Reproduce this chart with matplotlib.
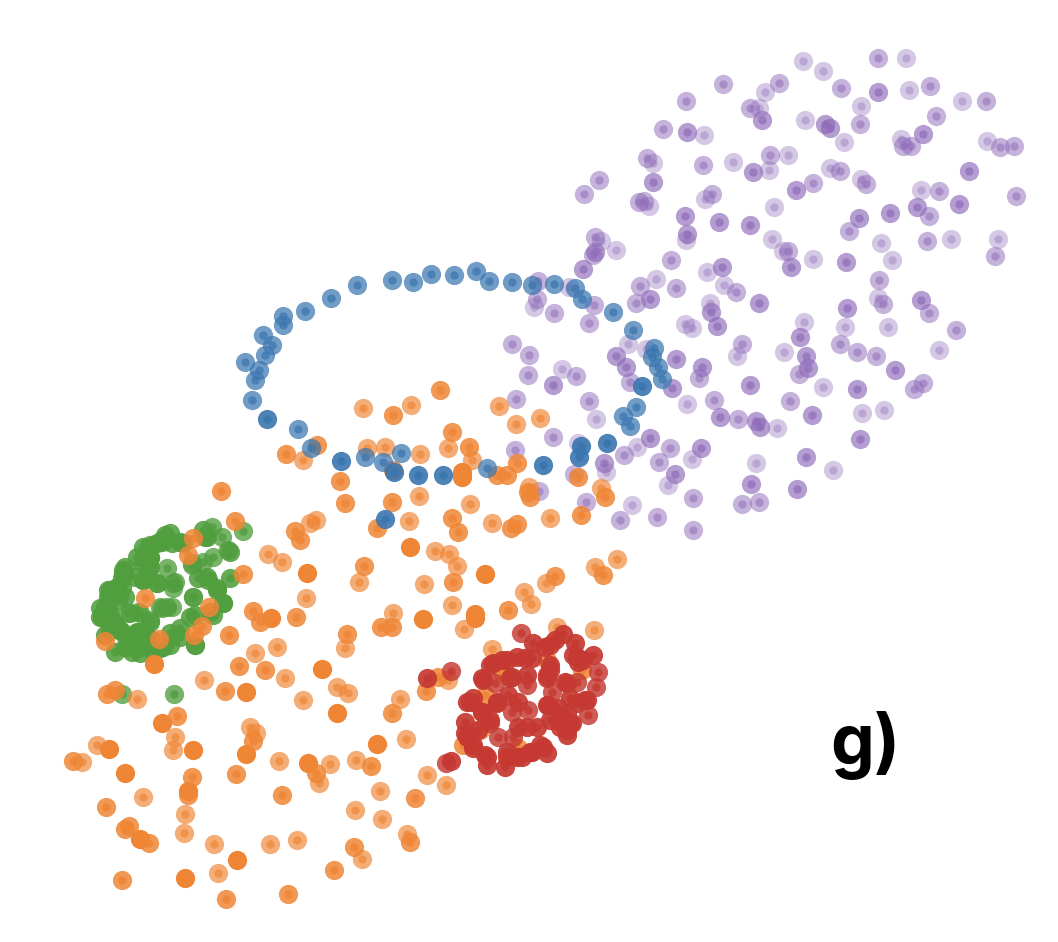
import matplotlib
matplotlib.use("Agg")
import matplotlib.pyplot as plt

# embedding coordinates, grouped by cluster and opacity
purple_light = [(823,71),(765,92),(759,108),(805,120),(704,135),(653,163),(733,162),(788,155),(769,170),(705,199),
    (649,206),(774,207),(686,240),(772,239),(601,241),(616,250),(783,251),(707,272),(803,61),(906,58),(909,90),
    (962,101),(861,106),(844,142),(901,139),(987,141),(830,168),(861,179),(921,190),(881,243),(951,239),(998,239),
    (892,260),(813,259),(724,285),(878,298),(710,303),(804,322),(845,327),(888,327),(737,356),(784,352),(939,350),
    (823,387),(862,413),(884,410),(777,428),(756,463),(833,470),(569,287),(656,279),(534,307),(685,324),(692,328),
    (628,344),(646,349),(562,369),(687,404),(596,419),(578,443),(637,447),(692,459),(606,472),(668,485),(632,505)]
purple_mid = [(723,84),(779,83),(750,108),(686,101),(663,129),(647,158),(703,165),(770,155),(599,180),(584,194),
    (712,194),(639,202),(644,201),(595,237),(593,255),(671,260),(788,251),(878,58),(841,88),(930,86),(986,101),
    (936,116),(860,124),(903,146),(911,146),(1000,147),(1014,146),(840,171),(813,183),(866,184),(939,191),(1016,196),
    (929,216),(849,231),(927,241),(995,256),(879,280),(736,292),(883,304),(929,313),(956,330),(742,344),(840,344),
    (857,352),(876,356),(799,374),(923,383),(914,389),(699,378),(714,400),(790,401),(738,419),(693,498),(742,504),
    (759,502),(693,530),(538,281),(640,286),(676,288),(636,303),(537,299),(594,305),(554,313),(589,323),(512,344),
    (529,355),(528,375),(576,376),(630,382),(589,401),(516,399),(553,437),(670,448),(515,450),(624,455),(659,462),
    (574,474),(539,491),(586,502),(620,520),(657,517)]
purple_dark = [(762,120),(687,132),(753,172),(796,190),(653,182),(685,216),(719,222),(750,225),(687,234),(595,252),
    (583,269),(791,267),(722,267),(825,124),(830,128),(878,92),(923,134),(969,171),(959,204),(917,207),(890,213),
    (859,218),(846,262),(759,303),(921,300),(847,308),(711,312),(717,326),(800,337),(806,356),(808,368),(895,370),
    (857,389),(702,367),(750,385),(812,415),(720,417),(756,421),(760,427),(860,439),(701,448),(806,457),(751,484),
    (797,489),(650,299),(616,356),(626,367),(676,359),(553,385),(672,388),(650,438),(604,463),(675,474)]

green_light = [(243,531),(212,527),(222,537),(174,694),(122,694),(195,645),(162,608),(172,607),(128,613),(140,613),
    (167,568),(175,582),(173,588),(150,620),(192,565),(203,562),(213,557),(193,597),(160,607),(167,607),(130,613),
    (138,612),(193,597),(173,583),(157,583),(192,563)]
green_dark = [(203,530),(170,533),(165,535),(162,542),(157,543),(143,547),(145,555),(137,557),(150,558),(148,565),
    (123,570),(122,578),(143,580),(157,583),(117,587),(108,590),(110,598),(125,597),(100,608),(102,617),(108,613),
    (113,623),(105,635),(120,630),(138,632),(115,652),(127,647),(140,653),(152,650),(163,647),(170,633),(180,637),
    (195,615),(208,580),(198,578),(217,590),(223,603),(230,578),(230,552),(172,543),(183,543),(207,537),(148,572),
    (135,640),(210,612),(150,545),(147,550),(143,563),(123,573),(122,587),(108,597),(100,617),(115,623),(150,622),
    (137,632),(145,632),(125,647),(140,647),(160,648),(180,628),(190,617),(213,615),(223,603),(217,588),(207,577),
    (228,550),(143,580),(135,577),(162,540),(180,542),(205,537),(150,557),(150,567),(125,567),(110,590),(118,600),
    (105,607),(110,613),(110,630),(122,632),(152,640),(132,652),(170,645),(195,645)]

orange_light = [(411,405),(499,406),(540,418),(367,448),(385,447),(420,454),(448,448),(472,460),(601,488),(529,487),
    (419,496),(470,504),(409,521),(492,523),(550,518),(449,554),(457,566),(359,582),(424,584),(524,592),(546,583),
    (595,567),(617,559),(393,613),(452,605),(464,629),(531,604),(557,627),(594,630),(345,648),(492,649),(255,653),
    (277,647),(204,680),(285,678),(137,699),(303,700),(337,687),(348,693),(400,699),(448,680),(250,727),(256,733),
    (175,737),(173,750),(97,745),(82,762),(279,761),(330,764),(356,760),(406,739),(319,783),(143,797),(380,791),
    (427,775),(446,785),(185,814),(355,810),(382,819),(184,833),(270,844),(297,840),(407,834),(303,460),(310,523),
    (316,520),(268,554),(282,562),(306,598),(363,408),(516,424),(435,551),(214,844),(362,859),(218,873)]
orange_mid = [(440,390),(393,415),(452,432),(469,447),(497,475),(507,475),(517,463),(393,470),(340,481),(578,477),
    (605,497),(528,492),(530,497),(345,503),(392,502),(377,528),(452,518),(458,532),(511,528),(517,524),(581,515),
    (364,566),(453,582),(555,576),(603,575),(381,627),(392,627),(508,610),(347,634),(239,666),(265,670),(225,691),
    (107,694),(115,690),(426,691),(438,677),(392,713),(177,716),(253,741),(73,761),(371,766),(316,773),(236,774),
    (192,777),(188,795),(282,795),(415,798),(106,807),(129,826),(125,829),(149,843),(410,842),(354,847),(334,870),
    (122,880),(288,894),(226,899),(193,538),(188,555),(145,598),(209,607),(202,626),(194,635),(105,641),(159,639),
    (235,521),(243,574),(229,635),(253,611),(260,622),(221,491),(295,531),(300,540),(296,617),(286,454),(317,445),
    (502,672),(485,695),(547,660),(582,670),(518,748),(480,730),(463,745),(558,720)]
orange_dark = [(462,472),(462,477),(410,547),(485,574),(423,619),(475,614),(475,618),(322,669),(154,664),(246,692),
    (337,713),(162,723),(246,754),(193,750),(109,749),(125,773),(308,763),(377,744),(188,791),(140,839),(237,860),
    (185,878),(307,573),(271,618)]

red_light = [(521,633),(451,671),(446,763),(598,672),(596,687),(588,715),(577,682),(527,685),(512,712),(498,737),
    (513,737),(490,723),(528,710),(495,683),(552,692)]
red_dark = [(427,678),(451,761),(533,643),(545,647),(555,640),(563,634),(575,643),(593,655),(577,657),(583,660),
    (585,700),(572,723),(567,735),(547,753),(532,752),(540,745),(522,757),(507,757),(505,767),(487,765),(485,755),
    (473,745),(465,733),(465,722),(467,702),(473,698),(482,712),(478,730),(518,727),(537,727),(560,727),(518,702),
    (508,695),(497,702),(482,678),(490,665),(502,660),(517,657),(532,658),(512,677),(527,675),(547,675),(550,665),
    (565,682),(547,705),(558,708),(570,698),(587,700),(567,713),(550,720),(493,663),(507,660),(525,658),(550,645),
    (573,655),(578,662),(550,670),(547,678),(567,683),(483,680),(510,678),(470,702),(482,712),(490,720),(467,737),
    (473,748),(487,757),(507,752),(517,757),(530,752),(543,747),(527,727),(570,723),(577,703),(548,705),(567,730),
    (563,723),(497,703)]

blue_light = [(357,285),(331,298),(392,280),(413,282),(431,274),(454,275),(476,271),(489,281),(512,282),(532,285),
    (554,284),(575,288),(582,299),(613,312),(633,330),(654,348),(652,357),(658,367),(662,379),(636,407),(623,416),
    (630,426),(487,468),(401,453),(383,462),(365,457),(311,448),(298,429),(252,400),(255,380),(259,370),(245,362),
    (265,355),(272,345),(263,335),(283,325),(283,316),(305,311)]
blue_dark = [(642,386),(607,443),(581,446),(579,457),(543,465),(443,475),(418,475),(394,472),(341,461),(385,519),
    (267,419)]

label = "g)"

layers = [
    (purple_light, "#8d69b8", 0.36),
    (purple_mid, "#8d69b8", 0.5),
    (purple_dark, "#8d69b8", 0.65),
    (green_light, "#519e3e", 0.78),
    (green_dark, "#519e3e", 0.88),
    (orange_light, "#ef8636", 0.68),
    (orange_mid, "#ef8636", 0.85),
    (orange_dark, "#ef8636", 1.0),
    (red_light, "#c53932", 0.82),
    (red_dark, "#c53932", 0.92),
    (blue_light, "#3a76af", 0.72),
    (blue_dark, "#3a76af", 0.9),
]

fig = plt.figure(figsize=(10.58, 9.42), dpi=100)
ax = fig.add_axes([0, 0, 1, 1])

for points, colour, alpha in layers:
    xs = [p[0] for p in points]
    ys = [p[1] for p in points]
    ax.scatter(xs, ys, s=192, color=colour, alpha=alpha, linewidths=0)
    ax.scatter(xs, ys, s=36, color=colour, alpha=alpha, linewidths=0)

ax.set_xlim(0, 1058)
ax.set_ylim(942, 0)
ax.axis("off")

ax.text(830, 765, label, fontsize=50, fontweight="bold", family="Inter", color="black")

fig.savefig("out.png", dpi=100)
